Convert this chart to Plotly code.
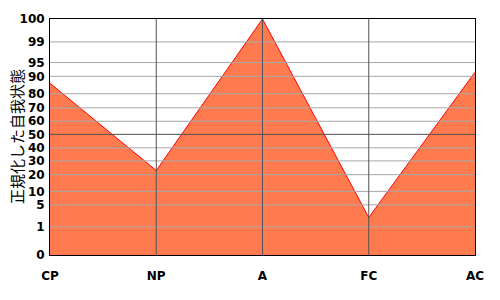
import numpy as np
import plotly.graph_objects as go

# Data
categories = ["CP", "NP", "A", "FC", "AC"]
values = [86, 23, 100, 2.7, 91.5]

# Non-linear y scale: tick labels and their relative positions (0..240 scale)
tick_values = [0, 1, 5, 10, 20, 30, 40, 50, 60, 70, 80, 90, 95, 99, 100]
tick_positions = [0, 28.7, 51, 64.7, 81.7, 95.7, 109, 122.7, 136, 149.7, 164, 181.7, 195.7, 216.7, 240]
y_title = "正規化した自我状態"


def scale(v):
    return np.interp(v, tick_values, tick_positions)


x_idx = list(range(len(categories)))
y_pos = scale(values)

fig = go.Figure()
fig.add_trace(go.Scatter(
    x=x_idx, y=y_pos, mode="lines",
    line=dict(color="#FF0000", width=1),
    fill="tozeroy", fillcolor="#FF7B4F",
    hoverinfo="skip", showlegend=False,
))

shapes = []
for tv, tp in zip(tick_values, tick_positions):
    if tv in (0, 100):
        continue
    shapes.append(dict(type="line", xref="paper", x0=0, x1=1, yref="y", y0=tp, y1=tp,
                       line=dict(color="#505050" if tv == 50 else "#A8A8A8", width=1),
                       layer="above"))
for xi in x_idx[1:-1]:
    shapes.append(dict(type="line", xref="x", x0=xi, x1=xi, yref="paper", y0=0, y1=1,
                       line=dict(color="#505050", width=1), layer="above"))

fig.update_layout(
    width=500, height=300,
    margin=dict(l=50, r=25, t=15, b=45),
    paper_bgcolor="white", plot_bgcolor="white",
    shapes=shapes,
    xaxis=dict(range=[0, len(categories) - 1], tickvals=x_idx, ticktext=categories,
               showgrid=False, zeroline=False, showline=True, linecolor="black", linewidth=1,
               mirror=True, layer="above traces", ticks="", ticklabelstandoff=10,
               tickfont=dict(family="DejaVu Sans", size=12, color="black", weight="bold")),
    yaxis=dict(range=[0, 240], tickvals=tick_positions, ticktext=[str(v) for v in tick_values],
               showgrid=False, zeroline=False, showline=True, linecolor="black", linewidth=1,
               mirror=True, layer="above traces", ticks="", ticklabelstandoff=2,
               tickfont=dict(family="DejaVu Sans", size=12, color="black", weight="bold")),
    annotations=[dict(text=y_title, textangle=-90, xref="paper", x=-34 / 425,
                      xanchor="center", yanchor="middle",
                      yref="paper", y=0.5, showarrow=False,
                      font=dict(family="Noto Sans CJK JP", size=15, color="black"))],
)

fig.write_html("out.html")
